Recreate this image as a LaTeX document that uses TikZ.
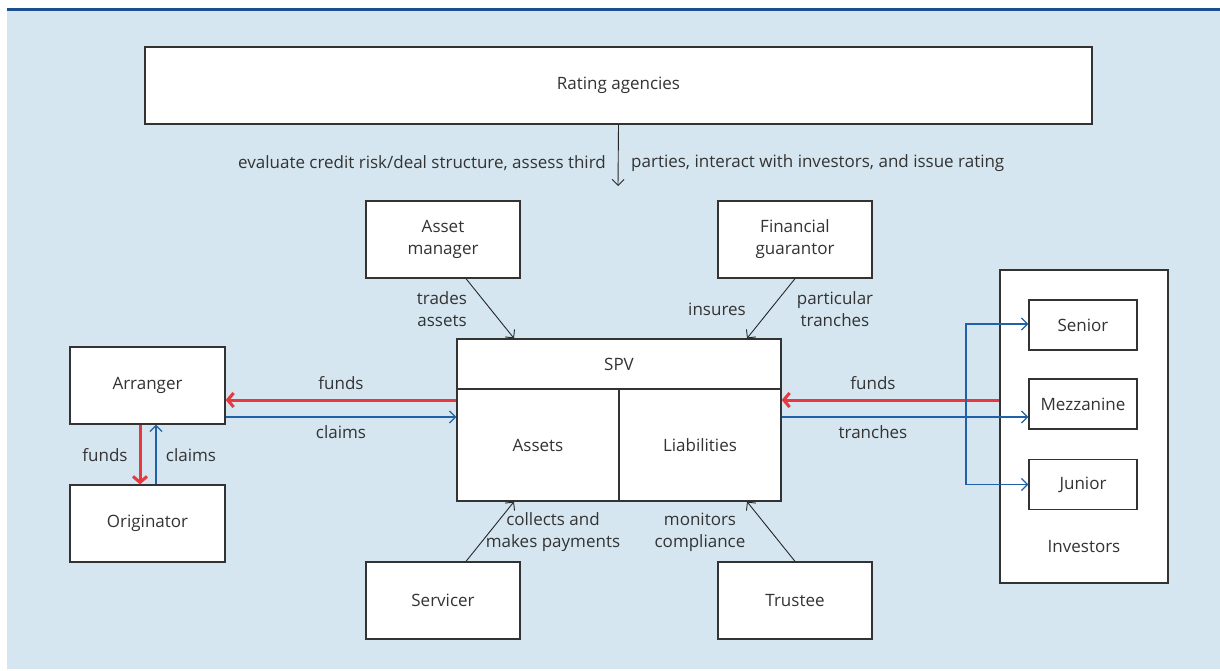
\documentclass[tikz,border=0pt]{standalone}
\usepackage{fontspec}
\setmainfont{Open Sans}
\usetikzlibrary{arrows.meta,calc}
\definecolor{bgblue}{HTML}{D5E6F0}
\definecolor{topline}{HTML}{1B4F8F}
\definecolor{fundred}{HTML}{E8383F}
\definecolor{claimblue}{HTML}{1F62A8}
\definecolor{ink}{HTML}{333333}
\tikzset{
  box/.style={draw=ink, fill=white, line width=1.3pt, align=center, inner sep=0pt, text=ink, font=\fontsize{17}{22}\selectfont},
  lbl/.style={align=center, text=ink, inner sep=0pt, font=\fontsize{17}{22}\selectfont},
  blk/.style={draw=black!85, line width=0.9pt, -{Straight Barb[length=6pt,width=12pt]}},
  redarr/.style={draw=fundred, line width=3pt, -{Straight Barb[length=6pt,width=14pt]}},
  bluearr/.style={draw=claimblue, line width=1.3pt, -{Straight Barb[length=6pt,width=12pt]}},
  blueline/.style={draw=claimblue, line width=1.3pt}
}
\begin{document}
\begin{tikzpicture}[x=1pt,y=-1pt]
\useasboundingbox (0,0) rectangle (1220,670);
\fill[bgblue] (7,10) rectangle (1220,669);
\fill[topline] (7,8) rectangle (1220,10.5);

\node[box, minimum width=947pt, minimum height=77pt] (rating) at (618.5,85.5) {Rating agencies};
\node[box, minimum width=154pt, minimum height=77pt] (asset) at (443,239.5) {Asset\\manager};
\node[box, minimum width=154pt, minimum height=77pt] (fin) at (795,239.5) {Financial\\guarantor};
\node[box, minimum width=324pt, minimum height=162pt] (spv) at (619,420) {};
\node[box, minimum width=155pt, minimum height=77pt] (arr) at (147.5,385.5) {Arranger};
\node[box, minimum width=155pt, minimum height=77pt] (orig) at (147.5,523.5) {Originator};
\node[box, minimum width=154pt, minimum height=77pt] (serv) at (443,600.5) {Servicer};
\node[box, minimum width=154pt, minimum height=77pt] (trustee) at (795,600.5) {Trustee};
\node[box, minimum width=168pt, minimum height=313pt] (inv) at (1084,426.5) {};
\node[box, minimum width=108pt, minimum height=50pt] (senior) at (1083,325) {Senior};
\node[box, minimum width=108pt, minimum height=50pt] (mezz) at (1083,404) {Mezzanine};
\node[box, minimum width=108pt, minimum height=50pt] (junior) at (1083,484.5) {Junior};
\node[lbl] (invlbl) at (1084,547) {Investors};

% SPV internals
\draw[draw=ink, line width=1.3pt] ($(spv.west)+(0,-31)$) -- ($(spv.east)+(0,-31)$);
\draw[draw=ink, line width=1.3pt] ($(spv.center)+(0,-31)$) -- (spv.south);
\node[lbl] (spvlbl) at (619,364) {SPV};
\node[lbl] (assets) at (538,445) {Assets};
\node[lbl] (liab) at (700,445) {Liabilities};

% rating arrow
\coordinate (raend) at (618,186);
\draw[blk] (rating.south) -- (raend);
\node[lbl, anchor=east] (ratL) at (606,163) {evaluate credit risk/deal structure, assess third};
\node[lbl, anchor=west] (ratR) at (631,163) {parties, interact with investors, and issue rating};

% black arrows
\draw[blk] ($(asset.south)+(23,0)$) -- ($(spv.north)+(-105,0)$);
\draw[blk] (fin.south) -- ($(spv.north)+(128,0)$);
\draw[blk] ($(serv.north)+(23,0)$) -- ($(spv.south)+(-105,0)$);
\draw[blk] (trustee.north) -- ($(spv.south)+(128,0)$);
\node[lbl] (tradeslbl) at (442,309) {trades\\assets};
\node[lbl] (insureslbl) at (717,309) {insures};
\node[lbl] (partlbl) at (835,309) {particular\\tranches};
\node[lbl] (collectlbl) at (553,532) {collects and\\makes payments};
\node[lbl] (monlbl) at (700,532) {monitors\\compliance};

% arranger <-> SPV
\draw[redarr] ($(spv.west)+(0,-20)$) -- ($(arr.east)+(0,14.5)$);
\draw[bluearr] ($(arr.east)+(0,31.5)$) -- ($(spv.west)+(0,-3)$);
\node[lbl] (f1) at (341,383) {funds};
\node[lbl] (c1) at (341,432) {claims};

% arranger <-> originator
\draw[redarr] ($(arr.south)+(-7.5,0)$) -- ($(orig.north)+(-7.5,0)$);
\draw[bluearr] ($(orig.north)+(8.5,0)$) -- ($(arr.south)+(8.5,0)$);
\node[lbl] (f2) at (105,455) {funds};
\node[lbl] (c2) at (191,455) {claims};

% SPV <-> investors
\draw[redarr] ($(inv.west)+(0,-26.5)$) -- ($(spv.east)+(0,-20)$);
\draw[bluearr] ($(spv.east)+(0,-3)$) -- ($(mezz.west)+(0,13)$);
\coordinate (split) at (966,417);
\draw[bluearr] (split) |- ($(senior.west)+(0,-1)$);
\draw[bluearr] (split) |- (junior.west);
\node[lbl] (f3) at (873,383) {funds};
\node[lbl] (t3) at (873,432) {tranches};
\end{tikzpicture}
\end{document}
